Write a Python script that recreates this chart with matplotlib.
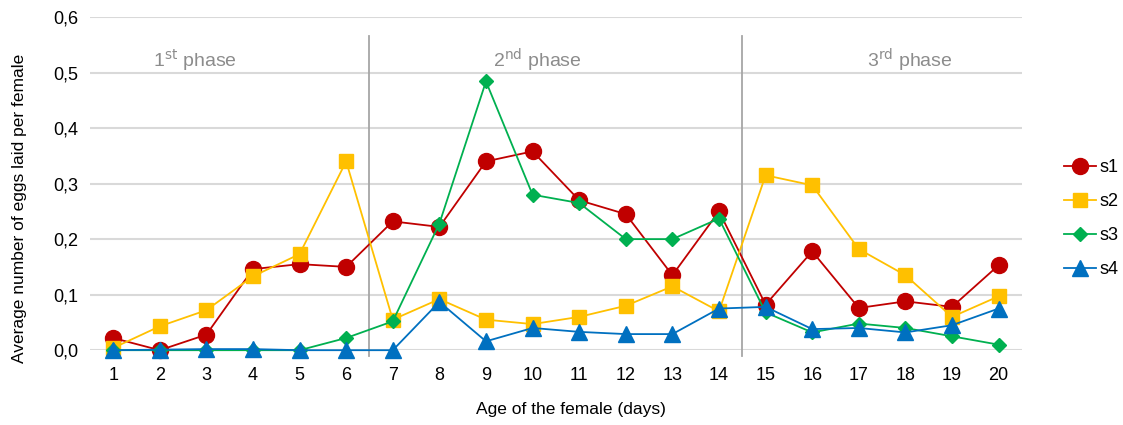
import numpy as np
import matplotlib.pyplot as plt

plt.rcParams['font.family'] = ['Liberation Sans Narrow', 'Liberation Sans', 'DejaVu Sans']

days = list(range(1, 21))
s1 = [0.022, 0.0, 0.028, 0.146, 0.155, 0.150, 0.232, 0.222, 0.340, 0.358,
      0.270, 0.245, 0.135, 0.250, 0.082, 0.178, 0.076, 0.088, 0.078, 0.153]
s2 = [0.004, 0.043, 0.072, 0.133, 0.173, 0.340, 0.055, 0.092, 0.055, 0.047,
      0.060, 0.080, 0.115, 0.070, 0.315, 0.297, 0.182, 0.135, 0.060, 0.097]
s3 = [0.0, 0.0, 0.0, 0.0, 0.0, 0.022, 0.052, 0.228, 0.484, 0.280,
      0.265, 0.200, 0.200, 0.237, 0.068, 0.032, 0.048, 0.040, 0.025, 0.010]
s4 = [0.0, 0.001, 0.002, 0.002, 0.0, 0.0, 0.0, 0.087, 0.016, 0.040,
      0.033, 0.029, 0.029, 0.075, 0.078, 0.038, 0.040, 0.032, 0.045, 0.075]
yticks = [0.0, 0.1, 0.2, 0.3, 0.4, 0.5, 0.6]
phase_bounds = [6.5, 14.5]
phases = [(2.75, r'1$^{\mathrm{st}}$ phase'), (10.1, r'2$^{\mathrm{nd}}$ phase'),
          (18.1, r'3$^{\mathrm{rd}}$ phase')]

fig = plt.figure(figsize=(11.23, 4.25), dpi=100)
ax = fig.add_axes([0.080, 0.176, 0.830, 0.784])

x = np.array(days)
ax.plot(x, s1, color='#C00000', marker='o', markersize=11.5, lw=1.3, label='s1', clip_on=False, zorder=3)
ax.plot(x, s2, color='#FFC000', marker='s', markersize=10.5, lw=1.3, label='s2', clip_on=False, zorder=4)
ax.plot(x, s3, color='#00B050', marker='D', markersize=7.5, lw=1.3, label='s3', clip_on=False, zorder=5)
ax.plot(x, s4, color='#0070C0', marker='^', markersize=11, lw=1.3, label='s4', clip_on=False, zorder=6)

for b in phase_bounds:
    ax.plot([b, b], [-0.01, 0.565], color='#a6a6a6', lw=1.3, clip_on=False, zorder=2)
for px, txt in phases:
    ax.text(px, 0.522, txt, color='#8c8c8c', fontsize=14, ha='center', va='center')

ax.set_xlim(0.5, 20.5)
ax.set_ylim(0, 0.6)
ax.set_xticks(days)
ax.set_xticklabels([str(d) for d in days])
ax.set_yticks(yticks)
ax.set_yticklabels([('%.1f' % v).replace('.', ',') for v in yticks])
ax.tick_params(length=0, labelsize=13)
ax.tick_params(axis='x', pad=12)
ax.tick_params(axis='y', pad=8)
ax.yaxis.grid(True, color='#d9d9d9', lw=1.5)
ax.set_axisbelow(True)
for sp in ax.spines.values():
    sp.set_visible(False)

ax.set_xlabel('Age of the female (days)', fontsize=12.5)
ax.xaxis.set_label_coords(0.516, -0.155)
ax.set_ylabel('Average number of eggs laid per female', fontsize=12.5)
ax.yaxis.set_label_coords(-0.067, 0.426)

ax.legend(loc='center left', bbox_to_anchor=(1.045, 0.395), frameon=False, fontsize=13,
          handlelength=1.8, labelspacing=0.95, handletextpad=0.2,
          borderpad=0, borderaxespad=0)

fig.savefig('out.png', dpi=100)
